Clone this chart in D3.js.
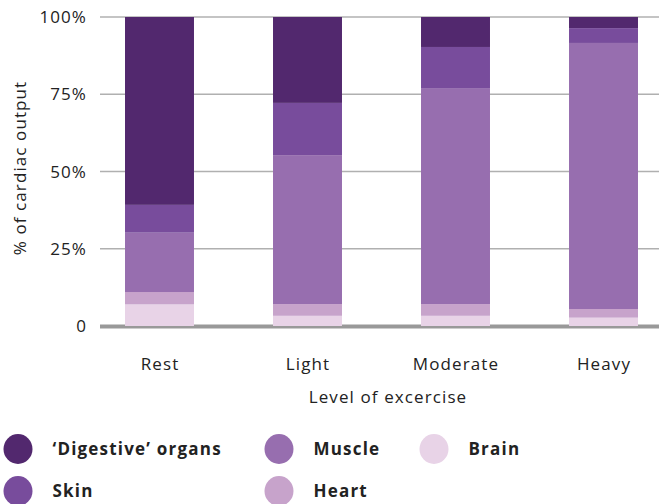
<!DOCTYPE html>
<html><head><meta charset="utf-8">
<script src="https://cdn.jsdelivr.net/npm/d3@7"></script>
<style>
body{margin:0;background:#fff;}
text{font-family:"Open Sans",sans-serif;fill:#222;letter-spacing:1.1px;}
</style></head>
<body><svg id="c" width="659" height="504"></svg>
<script>
const categories = ["Rest","Light","Moderate","Heavy"];
const seriesNames = ["Brain","Heart","Muscle","Skin","'Digestive' organs"];
const brain     = [7, 3.3, 3.3, 2.7];
const heart     = [4, 3.8, 3.8, 2.8];
const muscle    = [19.2, 48.2, 69.9, 86.1];
const skin      = [9, 16.9, 13.3, 4.8];
const digestive = [60.8, 27.8, 9.7, 3.6];
const yTicks = [0, 25, 50, 75, 100];
const yTickLabels = ["0","25%","50%","75%","100%"];
const colors = ["#e8d3e7","#c7a3cb","#976eaf","#784c9c","#52286e"];
const legendOrder = ["'Digestive' organs","Muscle","Brain","Skin","Heart"];
const legendLabels = {"'Digestive' organs":"\u2018Digestive\u2019 organs"};

const svg = d3.select("#c");
const rows = categories.map((c,i)=>({cat:c,"Brain":brain[i],"Heart":heart[i],"Muscle":muscle[i],"Skin":skin[i],"'Digestive' organs":digestive[i]}));
const stack = d3.stack().keys(seriesNames)(rows);

const x = d3.scaleBand().domain(categories).range([100,663]).paddingInner(0.534).paddingOuter(0.169);
const y = d3.scaleLinear().domain([0,100]).range([326,17]);
const color = d3.scaleOrdinal().domain(seriesNames).range(colors);

svg.append("g").selectAll("line").data(yTicks).join("line")
  .attr("x1",100).attr("x2",659)
  .attr("y1",d=>y(d)).attr("y2",d=>y(d))
  .attr("stroke",d=>d===0?"#999":"#b0b0b0")
  .attr("stroke-width",d=>d===0?3:1.5);

svg.append("g").selectAll("g").data(stack).join("g")
  .attr("fill",d=>color(d.key))
  .selectAll("rect").data(d=>d).join("rect")
  .attr("x",d=>x(d.data.cat))
  .attr("width",x.bandwidth())
  .attr("y",d=>y(d[1]))
  .attr("height",d=>y(d[0])-y(d[1]));

svg.append("line").attr("x1",100).attr("x2",659).attr("y1",y(0)+1.5).attr("y2",y(0)+1.5)
  .attr("stroke","#999").attr("stroke-width",2);

svg.append("g").selectAll("text").data(yTicks).join("text")
  .attr("x",87).attr("y",d=>y(d)).attr("dy","0.36em")
  .attr("text-anchor","end").attr("font-size",17)
  .text((d,i)=>yTickLabels[i]);

svg.append("g").selectAll("text").data(categories).join("text")
  .attr("x",d=>x(d)+x.bandwidth()/2+0.5).attr("y",370)
  .attr("text-anchor","middle").attr("font-size",17)
  .text(d=>d);

svg.append("text").attr("x",388).attr("y",403).attr("text-anchor","middle")
  .attr("font-size",17).text("Level of excercise");
svg.append("text").attr("transform","translate(26,168) rotate(-90)")
  .attr("text-anchor","middle").attr("font-size",17).text("% of cardiac output");

const legPos = [[18,449],[279,449],[434,449],[18,491],[279,491]];
const leg = svg.append("g").selectAll("g").data(legendOrder).join("g")
  .attr("transform",(d,i)=>`translate(${legPos[i][0]},${legPos[i][1]})`);
leg.append("ellipse").attr("rx",14.5).attr("ry",15).attr("fill",d=>color(d));
leg.append("text").attr("x",34.5).attr("dy","0.36em").attr("font-size",17)
  .attr("font-weight","bold").style("letter-spacing","1.2px")
  .text(d=>legendLabels[d]||d);
</script></body></html>
